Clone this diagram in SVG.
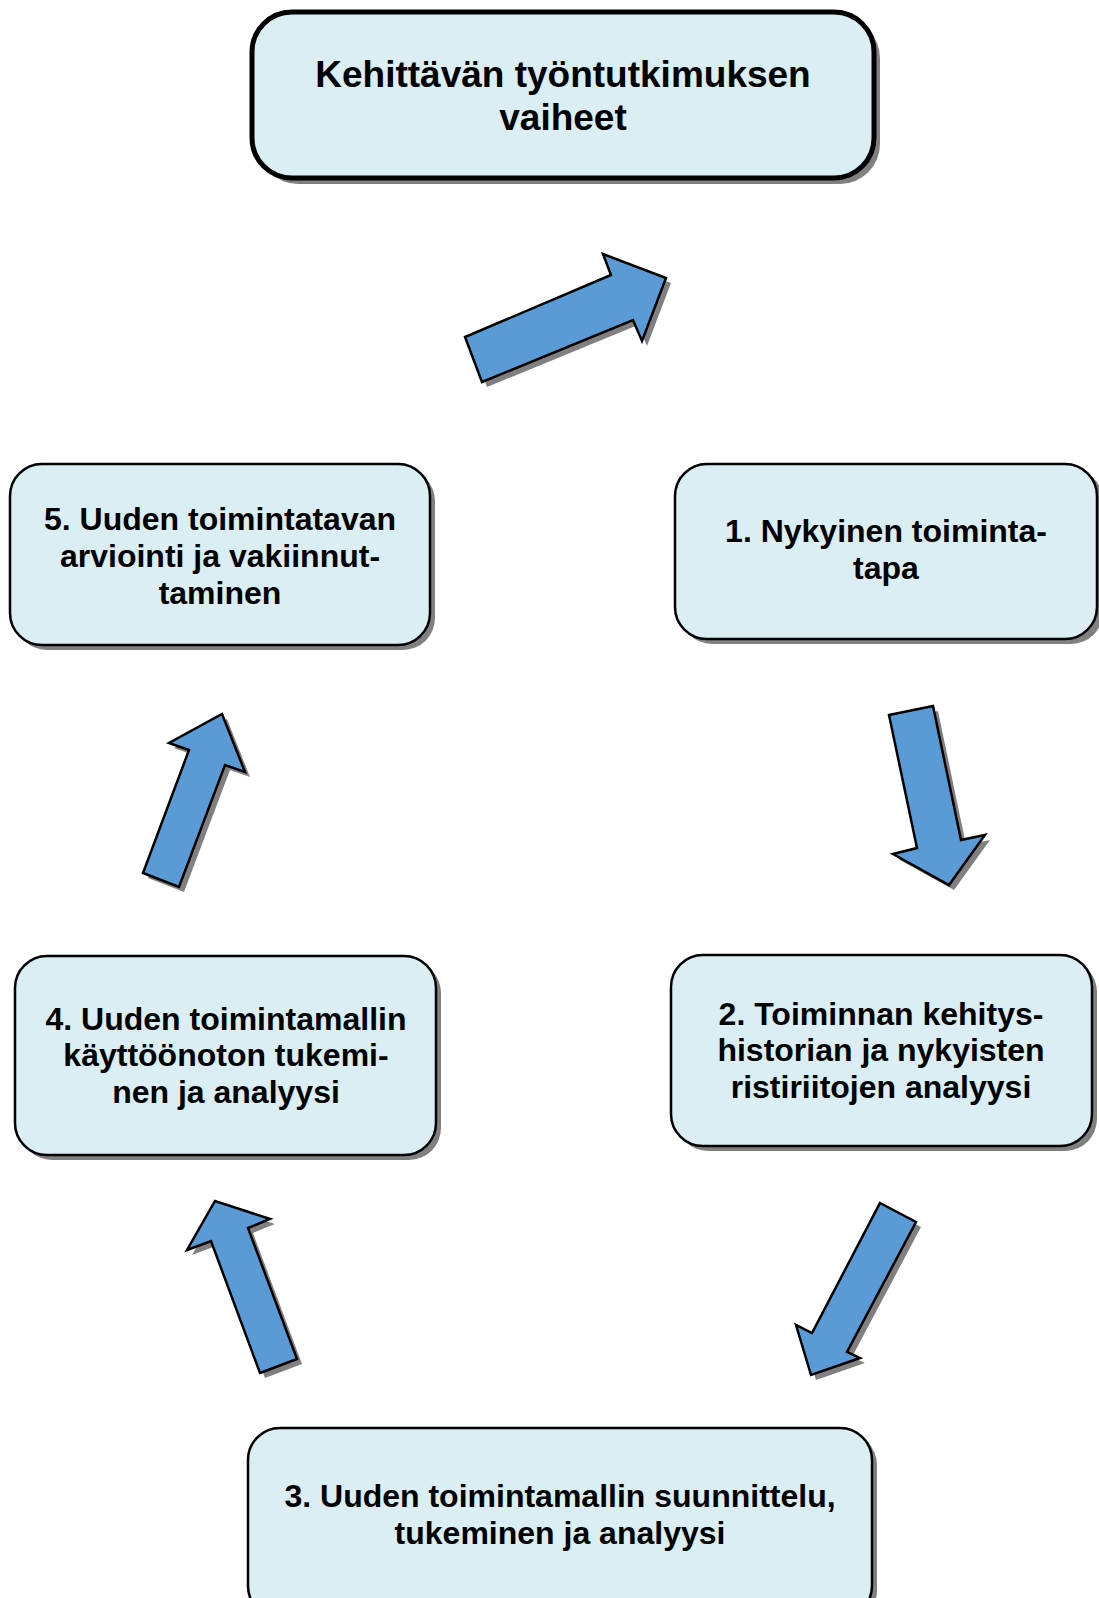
<svg xmlns="http://www.w3.org/2000/svg" width="1099" height="1598" viewBox="0 0 1099 1598">
<style>
.box{fill:#DAEEF3;stroke:#000;stroke-width:2.5}
.title{fill:#DAEEF3;stroke:#000;stroke-width:5}
.sh{fill:#808080}
.arr{fill:#5B9BD5;stroke:#000;stroke-width:2.5;stroke-linejoin:miter}
text{font-family:"Liberation Sans",Arial,sans-serif;font-weight:bold;font-size:32px;text-anchor:middle;fill:#000}
.t0{font-size:37px}
</style>
<rect width="1099" height="1598" fill="#fff"/>
<g id="connectors">
  <g id="a-title">
    <polygon class="sh" transform="translate(5,5)" points="482,382 465,337 611,275 603,254 666,278 642,341 633,320"/>
    <polygon class="arr" points="482,382 465,337 611,275 603,254 666,278 642,341 633,320"/>
  </g>
  <g id="a-1-2">
    <polygon class="sh" transform="translate(5,5)" points="889,715 933,706 961,840 985,835 949,885 893,854 917,848"/>
    <polygon class="arr" points="889,715 933,706 961,840 985,835 949,885 893,854 917,848"/>
  </g>
  <g id="a-2-3">
    <polygon class="sh" transform="translate(5,5)" points="880,1203 916,1222 847,1352 860,1358 811,1375 796,1325 812,1333"/>
    <polygon class="arr" points="880,1203 916,1222 847,1352 860,1358 811,1375 796,1325 812,1333"/>
  </g>
  <g id="a-3-4">
    <polygon class="sh" transform="translate(5,5)" points="260,1373 297,1359 248,1228 270,1219 215,1201 187,1250 211,1241"/>
    <polygon class="arr" points="260,1373 297,1359 248,1228 270,1219 215,1201 187,1250 211,1241"/>
  </g>
  <g id="a-4-5">
    <polygon class="sh" transform="translate(5,5)" points="143,873 179,887 225,765 245,772 222,714 169,743 189,750"/>
    <polygon class="arr" points="143,873 179,887 225,765 245,772 222,714 169,743 189,750"/>
  </g>
</g>
<g id="title">
  <rect class="sh" x="258" y="18" width="622" height="166" rx="40"/>
  <rect class="title" x="252" y="12" width="622" height="166" rx="40"/>
  <text class="t0" x="563" y="87">Kehittävän työntutkimuksen</text>
  <text class="t0" x="563" y="130">vaiheet</text>
</g>
<g id="n1">
  <rect class="sh" x="680" y="469" width="423" height="175" rx="32"/>
  <rect class="box" x="675" y="464" width="422" height="175" rx="32"/>
  <text x="886" y="542">1. Nykyinen toiminta-</text>
  <text x="886" y="579">tapa</text>
</g>
<g id="n2">
  <rect class="sh" x="676" y="960" width="421" height="191" rx="32"/>
  <rect class="box" x="671" y="955" width="421" height="191" rx="32"/>
  <text x="881" y="1025">2. Toiminnan kehitys-</text>
  <text x="881" y="1061">historian ja nykyisten</text>
  <text x="881" y="1098">ristiriitojen analyysi</text>
</g>
<g id="n3">
  <rect class="sh" x="253" y="1433" width="624" height="190" rx="32"/>
  <rect class="box" x="248" y="1428" width="624" height="190" rx="32"/>
  <text x="560" y="1507">3. Uuden toimintamallin suunnittelu,</text>
  <text x="560" y="1544">tukeminen ja analyysi</text>
</g>
<g id="n4">
  <rect class="sh" x="20" y="961" width="421" height="199" rx="32"/>
  <rect class="box" x="15" y="956" width="421" height="199" rx="32"/>
  <text x="226" y="1030">4. Uuden toimintamallin</text>
  <text x="226" y="1066">käyttöönoton tukemi-</text>
  <text x="226" y="1103">nen ja analyysi</text>
</g>
<g id="n5">
  <rect class="sh" x="15" y="469" width="420" height="181" rx="32"/>
  <rect class="box" x="10" y="464" width="420" height="181" rx="32"/>
  <text x="220" y="530">5. Uuden toimintatavan</text>
  <text x="220" y="567">arviointi ja vakiinnut-</text>
  <text x="220" y="604">taminen</text>
</g>
</svg>
